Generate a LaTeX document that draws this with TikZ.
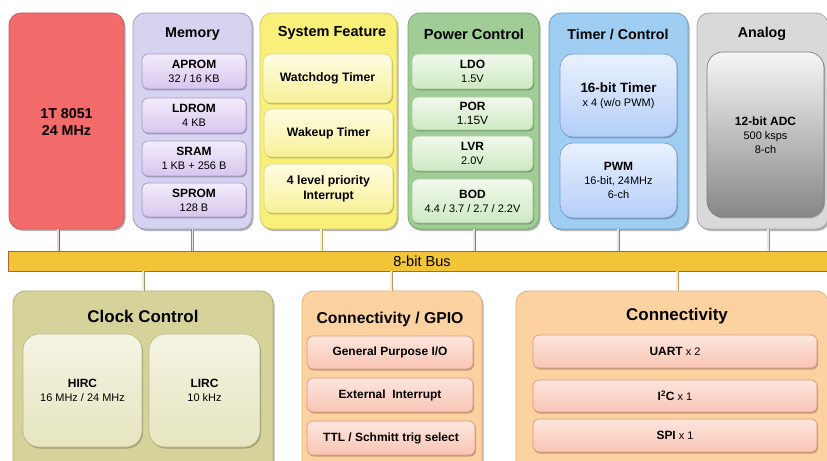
\documentclass[tikz,border=0pt]{standalone}
\usepackage{fontspec}
\setmainfont{Liberation Sans}
\usetikzlibrary{shadows}
\definecolor{cpuF}{RGB}{243,107,107}\definecolor{cpuD}{RGB}{205,90,90}
\definecolor{memF}{RGB}{214,211,240}\definecolor{memD}{RGB}{160,155,200}
\definecolor{memT}{RGB}{243,236,251}\definecolor{memB}{RGB}{214,198,238}\definecolor{memE}{RGB}{170,150,205}
\definecolor{sysF}{RGB}{249,240,122}\definecolor{sysD}{RGB}{212,202,100}
\definecolor{sysT}{RGB}{255,253,228}\definecolor{sysB}{RGB}{247,240,150}\definecolor{sysE}{RGB}{222,216,130}
\definecolor{pwrF}{RGB}{160,205,150}\definecolor{pwrD}{RGB}{118,168,108}
\definecolor{pwrT}{RGB}{241,249,236}\definecolor{pwrB}{RGB}{206,233,194}\definecolor{pwrE}{RGB}{160,200,150}
\definecolor{tmrF}{RGB}{160,206,242}\definecolor{tmrD}{RGB}{100,160,210}
\definecolor{tmrT}{RGB}{234,241,253}\definecolor{tmrB}{RGB}{180,206,248}\definecolor{tmrE}{RGB}{120,160,220}
\definecolor{anaF}{RGB}{217,217,217}\definecolor{anaD}{RGB}{168,168,168}
\definecolor{anaT}{RGB}{246,246,246}\definecolor{anaB}{RGB}{135,135,135}\definecolor{anaE}{RGB}{125,125,125}
\definecolor{busF}{RGB}{242,196,56}\definecolor{busD}{RGB}{180,100,50}
\definecolor{clkF}{RGB}{214,211,154}\definecolor{clkD}{RGB}{180,175,120}
\definecolor{clkT}{RGB}{244,244,228}\definecolor{clkB}{RGB}{229,229,193}\definecolor{clkE}{RGB}{185,185,140}
\definecolor{gpF}{RGB}{252,211,160}\definecolor{gpD}{RGB}{225,175,120}
\definecolor{gpT}{RGB}{253,230,222}\definecolor{gpB}{RGB}{249,196,180}\definecolor{gpE}{RGB}{225,150,130}
\newcommand{\hd}{\fontsize{12}{14}\selectfont\bfseries}
\newcommand{\sm}{\fontsize{11}{14}\selectfont}
\begin{document}
\begin{tikzpicture}[x=1bp,y=-1bp,
  outer/.style={draw, rounded corners=12bp, inner sep=0pt, outer sep=0pt, anchor=north west, line width=0.8bp,
     drop shadow={shadow xshift=1.5bp, shadow yshift=-2bp, opacity=0.3, fill=black}},
  sub/.style={draw, rounded corners=6bp, inner sep=0pt, outer sep=0pt, anchor=north west, line width=0.7bp,
     align=center, font=\sm, drop shadow={shadow xshift=1bp, shadow yshift=-1.5bp, opacity=0.25, fill=black}},
  ttl/.style={font=\fontsize{14.3}{16}\selectfont\bfseries, inner sep=0pt},
  bttl/.style={font=\fontsize{17}{19}\selectfont\bfseries, inner sep=0pt},
  conn/.style={draw=#1!85!black, line width=0.8bp, double=white!75!#1, double distance=1.4bp}
]
\useasboundingbox (0,0) rectangle (827,461);
\clip (0,0) rectangle (827,461);

% ---------- top row ----------
\node[outer, fill=cpuF, draw=cpuD, minimum width=115bp, minimum height=216bp] (cpu) at (9,13) {};
\node[align=center, font=\fontsize{14.3}{17}\selectfont\bfseries, inner sep=0pt] (cpuT) at (66.5,122) {1T 8051\\24 MHz};

\node[outer, fill=memF, draw=memD, minimum width=119bp, minimum height=216bp] (mem) at (133,13) {};
\node[ttl] (memTl) at (192.5,34) {Memory};
\tikzset{memsub/.style={sub, top color=memT, bottom color=memB, draw=memE, minimum width=104bp}}
\node[memsub, minimum height=35bp] (aprom) at (142,54) {{\hd APROM}\\32 / 16 KB};
\node[memsub, minimum height=35bp] (ldrom) at (142,98) {{\hd LDROM}\\4 KB};
\node[memsub, minimum height=35bp] (sram) at (142,141) {{\hd SRAM}\\1 KB + 256 B};
\node[memsub, minimum height=34bp] (sprom) at (142,183) {{\hd SPROM}\\128 B};

\node[outer, fill=sysF, draw=sysD, minimum width=137bp, minimum height=216bp] (sys) at (260,13) {};
\node[ttl, font=\fontsize{14.6}{16}\selectfont\bfseries] (sysTl) at (332,33) {System Feature};
\tikzset{syssub/.style={sub, rounded corners=8bp, top color=sysT, bottom color=sysB, draw=sysE, minimum width=129bp, font=\fontsize{12.3}{15}\selectfont\bfseries}}
\node[syssub, minimum height=49bp] (wdt) at (263,54) {Watchdog Timer};
\node[syssub, minimum height=48bp] (wkt) at (264,109) {Wakeup Timer};
\node[syssub, minimum height=49bp] (intr) at (264,164) {4 level priority\\Interrupt};

\node[outer, fill=pwrF, draw=pwrD, minimum width=131bp, minimum height=216bp] (pwr) at (408,13) {};
\node[ttl, font=\fontsize{14.7}{16}\selectfont\bfseries] (pwrTl) at (474,34) {Power Control};
\tikzset{pwrsub/.style={sub, top color=pwrT, bottom color=pwrB, draw=pwrE, minimum width=121bp}}
\node[pwrsub, minimum height=35bp] (ldo) at (412,54) {{\hd LDO}\\1.5V};
\node[pwrsub, minimum height=33bp] (por) at (412,97) {{\hd POR}\\{\fontsize{12}{14}\selectfont 1.15V}};
\node[pwrsub, minimum height=35bp] (lvr) at (412,136) {{\hd LVR}\\2.0V};
\node[pwrsub, minimum height=44bp] (bod) at (412,179) {{\hd BOD}\\4.4 / 3.7 / 2.7 / 2.2V};

\node[outer, fill=tmrF, draw=tmrD, minimum width=139bp, minimum height=216bp] (tmr) at (549,13) {};
\node[ttl] (tmrTl) at (618,34) {Timer / Control};
\tikzset{tmrsub/.style={sub, rounded corners=13bp, top color=tmrT, bottom color=tmrB, draw=tmrE, minimum width=117bp}}
\node[tmrsub, minimum height=83bp] (t16) at (560,54) {{\fontsize{13.5}{15}\selectfont\bfseries 16-bit Timer}\\x 4 (w/o PWM)};
\node[tmrsub, minimum height=75bp] (pwm) at (560,143) {{\hd PWM}\\16-bit, 24MHz\\6-ch};

\node[outer, fill=anaF, draw=anaD, minimum width=131bp, minimum height=216bp] (ana) at (697,13) {};
\node[ttl] (anaTl) at (762,34) {Analog};
\node[sub, rounded corners=16bp, top color=anaT, bottom color=anaB, draw=anaE, minimum width=117bp, minimum height=165bp] (adc) at (707,52) {};
\node[align=center, font=\sm, inner sep=0pt] (adcT) at (765.5,135) {{\hd 12-bit ADC}\\500 ksps\\8-ch};

% ---------- bus ----------
\node[draw=busD, fill=busF, line width=0.8bp, inner sep=0pt, outer sep=0pt, anchor=north west,
  minimum width=840bp, minimum height=20bp,
  drop shadow={shadow xshift=1bp, shadow yshift=-1.5bp, opacity=0.25, fill=black}] (bus) at (8,251) {};
\node[font=\fontsize{14.6}{16}\selectfont, inner sep=0pt] (busT) at (422,261) {8-bit Bus};

% ---------- bottom row ----------
\node[outer, fill=clkF, draw=clkD, minimum width=260bp, minimum height=200bp] (clk) at (13,291) {};
\node[bttl] (clkTl) at (143,316) {Clock Control};
\tikzset{clksub/.style={sub, rounded corners=16bp, top color=clkT, bottom color=clkB, draw=clkE, minimum height=113bp}}
\node[clksub, minimum width=119bp] (hirc) at (23,334) {{\hd HIRC}\\16 MHz / 24 MHz};
\node[clksub, minimum width=111bp] (lirc) at (149,334) {{\hd LIRC}\\10 kHz};

\node[outer, fill=gpF, draw=gpD, minimum width=180bp, minimum height=200bp] (gpio) at (302,291) {};
\node[bttl, font=\fontsize{15.8}{18}\selectfont\bfseries] (gpioTl) at (390,319) {Connectivity / GPIO};
\tikzset{gpsub/.style={sub, top color=gpT, bottom color=gpB, draw=gpE, font=\hd}}
\node[gpsub, minimum width=166bp, minimum height=33bp] (gpio1) at (307,336) {General Purpose I/O};
\node[gpsub, minimum width=166bp, minimum height=34bp] (extint) at (307,378) {External\ \ Interrupt};
\node[gpsub, minimum width=168bp, minimum height=34bp] (ttl) at (307,421) {TTL / Schmitt trig select};

\node[outer, fill=gpF, draw=gpD, minimum width=312bp, minimum height=200bp] (con) at (516,291) {};
\node[bttl] (conTl) at (677,316) {Connectivity};
\tikzset{consub/.style={sub, top color=gpT, bottom color=gpB, draw=gpE, minimum width=284bp}}
\node[consub, minimum height=33bp] (uart) at (533,335) {{\hd UART} x 2};
\node[consub, minimum height=32bp] (i2c) at (533,380) {{\hd I\textsuperscript{2}C} x 1};
\node[consub, minimum height=33bp] (spi) at (533,419) {{\hd SPI} x 1};

% ---------- connectors ----------
\path[conn=cpuD] ([xshift=-8.5bp]cpu.south) -- ([xshift=-8.5bp]cpu.south |- bus.north);
\path[conn=memD] (mem.south) -- (mem.south |- bus.north);
\path[conn=sysD] ([xshift=-7.5bp]sys.south) -- ([xshift=-7.5bp]sys.south |- bus.north);
\path[conn=pwrD] ([xshift=0.5bp]pwr.south) -- ([xshift=0.5bp]pwr.south |- bus.north);
\path[conn=tmrD] ([xshift=-0.5bp]tmr.south) -- ([xshift=-0.5bp]tmr.south |- bus.north);
\path[conn=anaD] ([xshift=5.5bp]ana.south) -- ([xshift=5.5bp]ana.south |- bus.north);
\path[conn=clkD] (clk.north) -- (clk.north |- bus.south);
\path[conn=gpD] ([xshift=-1bp]gpio.north) -- ([xshift=-1bp]gpio.north |- bus.south);
\path[conn=gpD] ([xshift=5bp]con.north) -- ([xshift=5bp]con.north |- bus.south);
\end{tikzpicture}
\end{document}
